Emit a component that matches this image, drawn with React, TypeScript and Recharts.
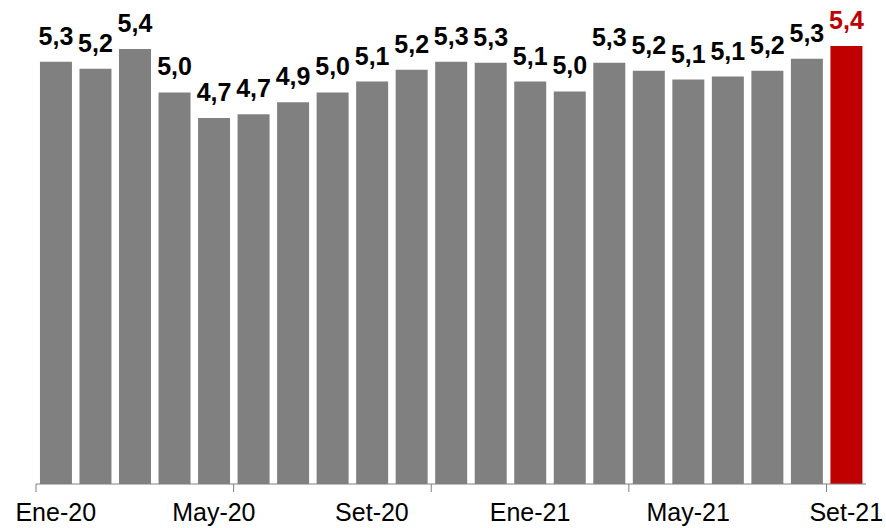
import { BarChart, Bar, XAxis, YAxis, Cell, LabelList } from 'recharts'

const months = [
  'Ene-20', 'Feb-20', 'Mar-20', 'Abr-20', 'May-20', 'Jun-20', 'Jul-20', 'Ago-20', 'Set-20', 'Oct-20', 'Nov-20', 'Dic-20',
  'Ene-21', 'Feb-21', 'Mar-21', 'Abr-21', 'May-21', 'Jun-21', 'Jul-21', 'Ago-21', 'Set-21',
]
const values = [
  5.27, 5.2, 5.4, 4.96, 4.7, 4.74, 4.86, 4.96, 5.07, 5.19, 5.27, 5.26,
  5.07, 4.97, 5.26, 5.18, 5.09, 5.12, 5.18, 5.3, 5.43,
]
const labelEvery = 4
const tickEvery = 5

const GREY = '#808080'
const RED = '#C00000'
const FONT = 'Arial, "Liberation Sans", sans-serif'

const data = months.map((month, i) => ({ month, value: values[i] }))
const last = data.length - 1

const fmt = (v: number) => v.toFixed(1).replace('.', ',')

/** Labels every 4 months, tick marks every 5 categories on the band edge */
function MonthTick(props: any) {
  const { x, y, index, payload } = props
  const step = (props.width || 830) / data.length
  return (
    <g>
      {index % tickEvery === 0 && (
        <line x1={x - step / 2} x2={x - step / 2} y1={y} y2={y + 8} stroke="#808080" strokeWidth={1} />
      )}
      {index % labelEvery === 0 && (
        <text x={x} y={y + 37} textAnchor="middle" fontSize={25} fill="#000" fontFamily={FONT}>
          {payload.value}
        </text>
      )}
    </g>
  )
}

function ValueLabel(props: any) {
  const { x, y, width, value, index } = props
  return (
    <text
      x={x + width / 2}
      y={y - 17}
      textAnchor="middle"
      fontSize={25}
      fontWeight="bold"
      fill={index === last ? RED : '#000'}
      fontFamily={FONT}
    >
      {fmt(value)}
    </text>
  )
}

export default function App() {
  return (
    <div style={{ position: 'absolute', left: 0, top: 0, width: 886, height: 528, background: '#fff' }}>
      <BarChart width={886} height={528} data={data} margin={{ top: 39, right: 20, left: 36, bottom: 0 }} barCategoryGap="10%">
        <XAxis
          dataKey="month"
          interval={0}
          height={44}
          tickSize={0}
          tickMargin={0}
          tickLine={false}
          axisLine={{ stroke: '#808080' }}
          tick={<MonthTick />}
        />
        <YAxis hide domain={[1, 5.5]} allowDataOverflow />
        <Bar dataKey="value" isAnimationActive={false}>
          {data.map((_, i) => (
            <Cell key={i} fill={i === last ? RED : GREY} />
          ))}
          <LabelList dataKey="value" content={<ValueLabel />} />
        </Bar>
      </BarChart>
    </div>
  )
}
